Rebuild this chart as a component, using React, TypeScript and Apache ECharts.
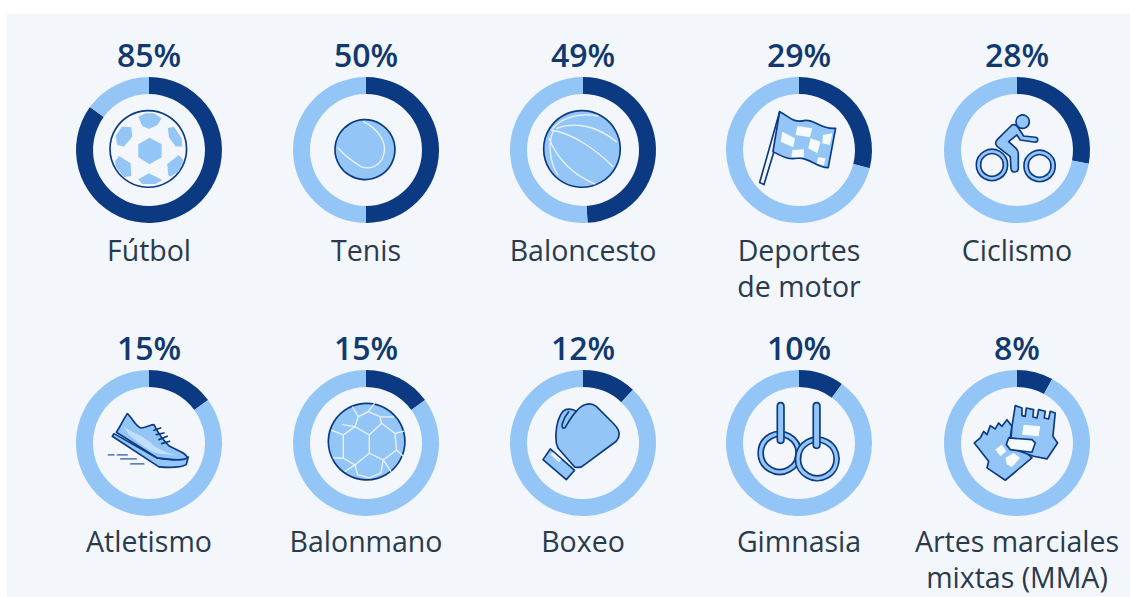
import React, { useEffect, useRef } from "react";
import * as echarts from "echarts";

const sports = ["Fútbol", "Tenis", "Baloncesto", "Deportes\nde motor", "Ciclismo", "Atletismo", "Balonmano", "Boxeo", "Gimnasia", "Artes marciales\nmixtas (MMA)"];
const shares = [85, 50, 49, 29, 28, 15, 15, 12, 10, 8];

const DARK = "#0b3a82";
const LIGHT = "#94c5f7";
const PANEL = "#f3f6fa";
const INK = "#10396f";
const PALE = "#c4dffb";

const COLS = [149, 366, 583, 799, 1017];
const ROWS = [150, 443];
const LABEL_OFFSET = [82, 80];

const PATHS: Record<string, string> = {
  socHex: "M152 113L188 133L188 172L152 193L118 172L118 133Z M118 50L140 40L165 40L188 55L175 75L150 87L130 78Z M50 108L68 80L97 82L100 110L75 140L55 135Z M207 85L225 80L248 115L250 140L230 140L210 112Z M60 168L95 190L97 228L75 232L50 200L48 185Z M205 192L240 165L253 180L240 215L215 230L208 225Z M118 238L150 220L190 240L170 252L130 252Z",
  tenSeam: "M142 65C185 85 210 125 205 155C200 195 165 212 135 200C110 185 85 165 67 145",
  bbLines: "M60 85C90 50 140 38 195 48 M72 85C120 65 190 75 250 125 M55 90C120 100 190 150 240 200 M48 115C70 170 110 220 185 252 M60 95C45 130 50 190 75 225",
  flagPole: "M92 35L32 248L45 254L75 155L100 50Z",
  flagBody: "M92 35C115 45 130 70 165 62C195 55 215 90 260 85L238 203C205 205 180 170 145 175C120 180 100 170 72 155Z",
  flagChecks: "M100 95L138 115L133 142L95 125Z M145 78L190 85L183 112L140 105Z M185 115L215 125L205 160L178 145Z M130 150L165 148L165 172L127 172Z M222 105L250 100L243 135L220 130Z M208 172L230 175L225 197L203 190Z",
  rider: "M135 75L90 120C82 130 88 140 98 145L130 170L132 205C134 220 152 220 154 205L154 160C154 150 150 148 145 143L125 125L150 105L160 120L205 127C215 125 215 113 205 112L170 108L155 85C150 75 142 72 135 75Z",
  shoeUpper: "M85 62C75 75 62 105 52 118L175 195C210 200 250 205 265 195C262 180 240 175 212 160C195 145 175 115 165 95C155 95 140 105 125 105C110 100 100 75 85 62Z",
  shoeFacet: "M74 100L90 125C120 150 150 175 178 182L235 188C205 180 175 170 150 145C125 125 100 120 74 100Z",
  shoeSole: "M45 122L40 130L180 222C215 225 250 222 262 215L268 192C240 205 210 202 175 195Z",
  shoeLaces: "M165 112L185 105 M172 125L195 120 M180 140L205 130 M188 152L212 145",
  shoeSpeed: "M28 186L45 186 M55 186L85 186 M65 198L112 198 M95 213L135 213",
  hbLines: "M127 71L157 56L192 71L197 91L160 126L117 101Z M117 101L160 126L160 181L117 216L82 196L82 126Z M160 126L197 91L237 121L242 171L202 201L160 181 M117 216L125 245L160 255L195 240L202 201 M127 71L110 42 M157 56L175 32 M192 71L232 72 M237 121L262 115 M242 171L262 190 M202 201L225 235 M82 126L48 112 M82 196L52 195 M117 216L88 235 M117 101L80 95",
  glove: "M70 150C66 125 70 80 90 55C100 45 120 48 130 55C145 35 170 25 190 40L240 90C260 110 265 125 250 145L155 215C145 225 135 225 125 222L75 165Z",
  thumb: "M130 55C115 70 105 90 97 103C90 110 85 102 88 92C92 78 100 65 108 55",
  cuff: "M52 168L30 200L100 260L125 232Z",
  cuffMark: "M52 185L60 178L85 200L78 208Z",
  mmaBack: "M22 150L40 135L50 115L60 125L70 98L85 108L95 90L105 100L120 80L135 100L130 135L195 195L115 262L60 225L65 205Z",
  mmaFront: "M135 100L145 38L165 45L165 68L175 70L178 45L200 50L198 72L210 75L215 50L235 55L232 75L245 78L250 55L265 60L258 130L272 150L240 198L200 190L130 165Z",
  mmaWhite: "M170 95L220 100L215 130L165 125Z M85 170L105 155L118 175L100 190Z M115 195L140 180L160 195L135 222L120 215Z",
  mmaStrap: "M118 155L125 135L195 140L205 150L195 178L130 170Z",
  rod1: "M85 40C85 25 105 25 105 40L105 140C105 155 85 155 85 140Z",
  rod2: "M193 40C193 25 213 25 213 40L213 155C213 170 193 170 193 155Z",
};

Object.keys(PATHS).forEach((k) => {
  echarts.graphic.registerShape("ico_" + k, echarts.graphic.extendPath(PATHS[k], {}));
});

const p = (name: string, style: any) => ({ type: "ico_" + name, style });
const circle = (cx: number, cy: number, r: number, style: any) => ({ type: "circle", shape: { cx, cy, r }, style });

const line = (c: string, w: number) => ({ fill: "none", stroke: c, lineWidth: w, lineCap: "round", lineJoin: "round" });
const outline = { stroke: DARK, lineWidth: 5, lineJoin: "round" };

const ring = (cx: number, cy: number, r: number) => [
  circle(cx, cy, r, { fill: "none", stroke: DARK, lineWidth: 20 }),
  circle(cx, cy, r, { fill: "none", stroke: LIGHT, lineWidth: 10 }),
];

const wheel = (cx: number, cy: number) => [
  circle(cx, cy, 47, { fill: LIGHT, ...outline }),
  circle(cx, cy, 34, { fill: PANEL, ...outline }),
];

const ICONS: any[][] = [
  [
    circle(151, 150, 113, { fill: PALE }),
    circle(148, 147, 115, { fill: PANEL, ...outline }),
    p("socHex", { fill: LIGHT }),
  ],
  [
    circle(150, 152, 90, { fill: PALE }),
    circle(147, 149, 90, { fill: LIGHT, ...outline }),
    p("tenSeam", line("#eaf3fd", 4)),
  ],
  [
    circle(147, 147, 115, { fill: LIGHT, ...outline }),
    p("bbLines", line("#eaf3fd", 4)),
  ],
  [
    p("flagPole", { fill: PANEL, ...outline }),
    p("flagBody", { fill: LIGHT, ...outline }),
    p("flagChecks", { fill: "#f7fafd" }),
  ],
  [
    ...wheel(75, 195),
    ...wheel(218, 198),
    p("rider", { fill: LIGHT, ...outline }),
    circle(167, 65, 20, { fill: LIGHT, ...outline }),
  ],
  [
    p("shoeSole", { fill: LIGHT, ...outline }),
    p("shoeUpper", { fill: LIGHT, ...outline }),
    p("shoeFacet", { fill: PALE }),
    p("shoeLaces", line(DARK, 5)),
    p("shoeSpeed", line("#2f5c9a", 4)),
  ],
  [
    circle(152, 146, 115, { fill: LIGHT, ...outline }),
    p("hbLines", line("#eaf3fd", 4)),
  ],
  [
    p("glove", { fill: LIGHT, ...outline }),
    p("thumb", { fill: "none", ...outline }),
    p("cuff", { fill: LIGHT, ...outline }),
    p("cuffMark", { fill: "#eaf3fd" }),
  ],
  [
    ...ring(92, 180, 57),
    ...ring(205, 198, 58),
    p("rod1", { fill: LIGHT, ...outline }),
    p("rod2", { fill: LIGHT, ...outline }),
  ],
  [
    p("mmaBack", { fill: LIGHT, ...outline }),
    p("mmaFront", { fill: LIGHT, ...outline }),
    p("mmaWhite", { fill: "#f7fafd" }),
    p("mmaStrap", { fill: "#f7fafd", ...outline }),
  ],
];

const FONT = '"Open Sans", sans-serif';

export default function App() {
  const ref = useRef<HTMLDivElement>(null);
  useEffect(() => {
    document.body.style.margin = "0";
    const chart = echarts.init(ref.current!, undefined, { renderer: "svg" });
    const pos = sports.map((_, i) => ({ cx: COLS[i % 5], cy: ROWS[Math.floor(i / 5)], row: Math.floor(i / 5) }));
    chart.setOption({
      animation: false,
      backgroundColor: "#ffffff",
      title: [
        ...shares.map((v, i) => ({
          text: v + "%",
          left: pos[i].cx,
          top: pos[i].cy - 112,
          padding: 0,
          textAlign: "center",
          textStyle: { fontFamily: FONT, fontSize: 32, fontWeight: 600, color: INK },
        })),
        ...sports.map((s, i) => ({
          text: s,
          left: pos[i].cx,
          top: pos[i].cy + LABEL_OFFSET[pos[i].row],
          padding: 0,
          textAlign: "center",
          textStyle: { fontFamily: FONT, fontSize: 28.5, fontWeight: 400, color: "#2a3a4d", lineHeight: 36 },
        })),
      ],
      graphic: [
        { type: "rect", shape: { x: 7, y: 14, width: 1123, height: 583 }, style: { fill: PANEL }, silent: true },
        ...ICONS.map((children, i) => ({
          type: "group",
          x: pos[i].cx - 50,
          y: pos[i].cy - 50,
          scaleX: 1 / 3,
          scaleY: 1 / 3,
          silent: true,
          children,
        })),
      ],
      series: shares.map((v, i) => ({
        type: "pie",
        radius: [56, 73],
        center: [pos[i].cx, pos[i].cy],
        startAngle: 90,
        clockwise: true,
        silent: true,
        label: { show: false },
        labelLine: { show: false },
        emphasis: { disabled: true },
        data: [
          { name: sports[i], value: v, itemStyle: { color: DARK } },
          { name: "resto", value: 100 - v, itemStyle: { color: LIGHT } },
        ],
      })),
    });
    return () => chart.dispose();
  }, []);
  return <div ref={ref} style={{ position: "fixed", left: 0, top: 0, width: 1130, height: 597 }} />;
}
